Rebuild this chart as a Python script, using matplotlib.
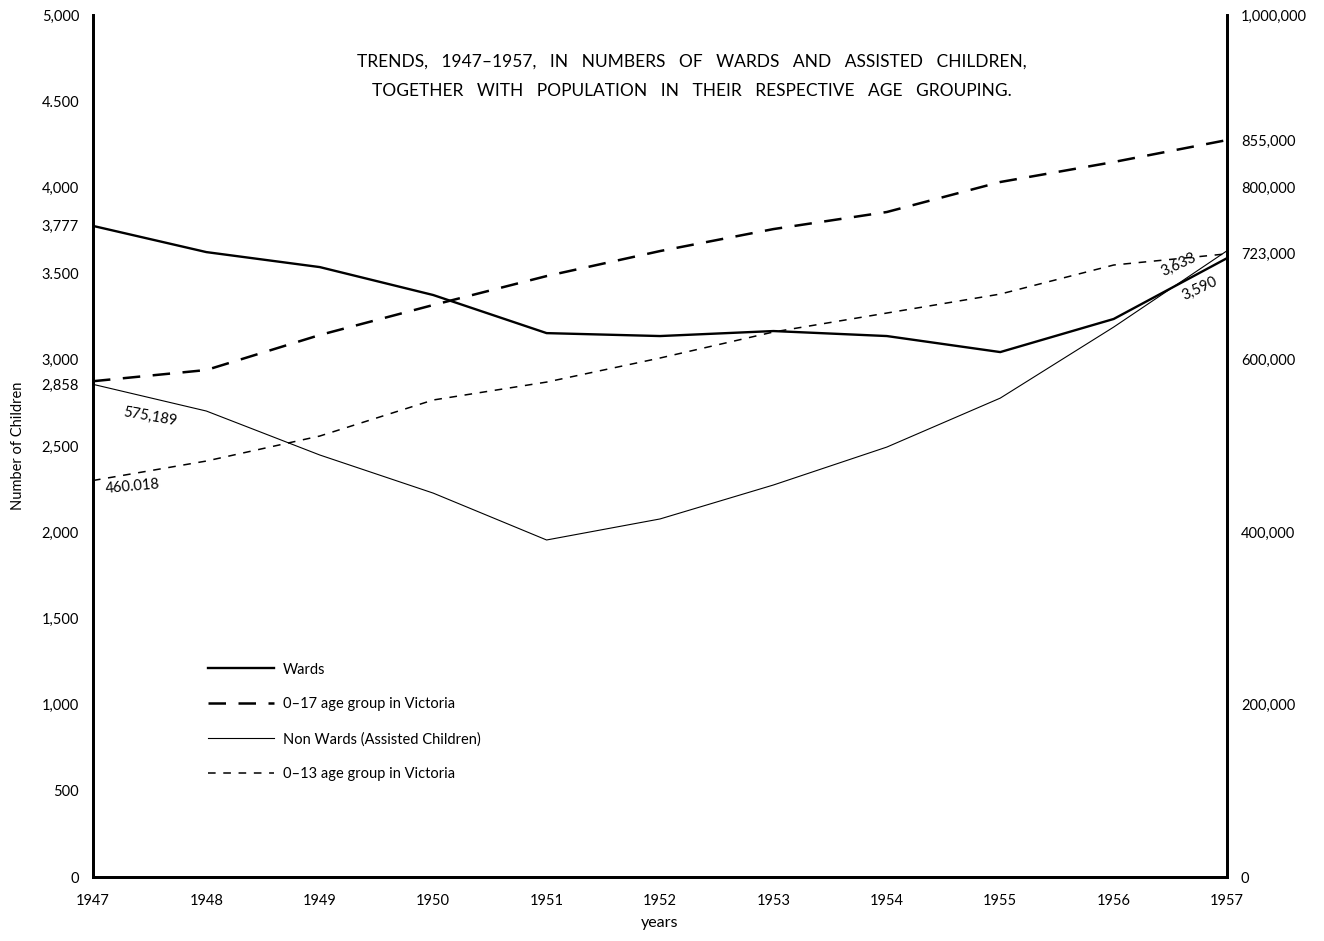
import matplotlib.pyplot as plt

plt.rcParams['font.family'] = ['Lato', 'DejaVu Sans']

# data
years = [1947, 1948, 1949, 1950, 1951, 1952, 1953, 1954, 1955, 1956, 1957]
wards = [3777, 3625, 3538, 3376, 3155, 3138, 3167, 3138, 3045, 3237, 3590]
non_wards = [2858, 2703, 2448, 2227, 1955, 2077, 2274, 2494, 2778, 3190, 3633]
age_0_17 = [575189, 588200, 628800, 663600, 697200, 726200, 751700, 771500, 806300, 829500, 855000]
age_0_13 = [460018, 482600, 511600, 553400, 574200, 602100, 632300, 654300, 676300, 710000, 723000]

left_ticks = [0, 500, 1000, 1500, 2000, 2500, 2858, 3000, 3500, 3777, 4000, 4500, 5000]
left_labels = ['0', '500', '1,000', '1,500', '2,000', '2,500', '2,858', '3,000',
               '3.500', '3,777', '4,000', '4.500', '5,000']
right_ticks = [0, 200000, 400000, 600000, 723000, 800000, 855000, 1000000]
right_labels = ['0', '200,000', '400,000', '600,000', '723,000', '800,000',
                '855,000', '1,000,000']

fig = plt.figure(figsize=(13.24, 9.41), dpi=100)
ax = fig.add_axes([0.0702, 0.068, 0.8566, 0.916])
ax2 = ax.twinx()

ax.plot(years, wards, color='black', lw=1.7, label='Wards')
ax2.plot(years, age_0_17, color='black', lw=1.8, dashes=(7, 5), label='0–17 age group in Victoria')
ax.plot(years, non_wards, color='black', lw=0.8, label='Non Wards (Assisted Children)')
ax2.plot(years, age_0_13, color='black', lw=1.1, dashes=(5, 5), label='0–13 age group in Victoria')

ax.set_xlim(1947, 1957)
ax.set_ylim(0, 5000)
ax2.set_ylim(0, 1000000)

ax.set_xticks(years)
ax.set_xticklabels([str(y) for y in years], fontsize=10.5)
ax.set_yticks(left_ticks)
ax.set_yticklabels(left_labels, fontsize=10.5)
ax2.set_yticks(right_ticks)
ax2.set_yticklabels(right_labels, fontsize=10.5)
ax.tick_params(axis='x', length=0, pad=12)
ax.tick_params(axis='y', length=0, pad=10)
ax2.tick_params(axis='y', length=0, pad=10)

for a in (ax, ax2):
    a.spines['top'].set_visible(False)
    for s in ('left', 'right', 'bottom'):
        a.spines[s].set_linewidth(2)

ax.set_xlabel('years', fontsize=11.5, labelpad=6)
ax.set_ylabel('Number of Children', fontsize=10.5, labelpad=12)

ax.text(0.528, 0.955, 'TRENDS,   1947–1957,   IN   NUMBERS   OF   WARDS   AND   ASSISTED   CHILDREN,\n'
        'TOGETHER   WITH   POPULATION   IN   THEIR   RESPECTIVE   AGE   GROUPING.',
        transform=ax.transAxes, ha='center', va='top', fontsize=12.5,
        linespacing=2.0)

# value notes
ax.text(1947.5, 2670, '575,189', rotation=-10, fontsize=10.5, ha='center', va='center')
ax.text(1947.35, 2262, '460.018', rotation=5, fontsize=10.5, ha='center', va='center')
ax.text(1956.57, 3550, '3,633', rotation=25, fontsize=10.5, ha='center', va='center')
ax.text(1956.76, 3416, '3,590', rotation=25, fontsize=10.5, ha='center', va='center')

h1, l1 = ax.get_legend_handles_labels()
h2, l2 = ax2.get_legend_handles_labels()
handles = [h1[0], h2[0], h1[1], h2[1]]
labels = [l1[0], l2[0], l1[1], l2[1]]
ax.legend(handles, labels, loc='upper left', bbox_to_anchor=(0.09, 0.264),
          frameon=False, fontsize=10.5, handlelength=4.5, handletextpad=0.6,
          labelspacing=1.42)

fig.savefig('out.png', dpi=100)
